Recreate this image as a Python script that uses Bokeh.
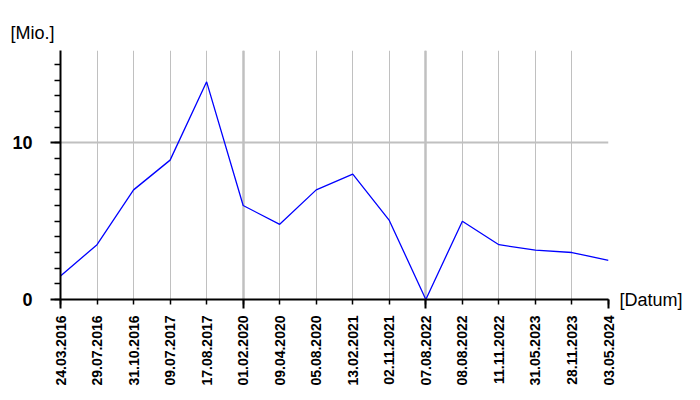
import math
from bokeh.plotting import figure
from bokeh.models import FixedTicker, Grid, Range1d, LinearAxis, Title
from bokeh.embed import file_html
from bokeh.resources import INLINE

dates = ["24.03.2016", "29.07.2016", "31.10.2016", "09.07.2017", "17.08.2017",
         "01.02.2020", "09.04.2020", "05.08.2020", "13.02.2021", "02.11.2021",
         "07.08.2022", "08.08.2022", "11.11.2022", "31.05.2023", "28.11.2023",
         "03.05.2024"]
values = [1.5, 3.5, 7.0, 8.9, 13.9, 6.0, 4.8, 7.0, 8.0, 5.05, 0.0, 5.0, 3.5,
          3.15, 3.0, 2.5]
y_major_ticks = [0, 10]
y_minor_ticks = list(range(0, 16))
y_max = 15.9
y_label = "[Mio.]"
x_label = "[Datum]"

idx = list(range(len(dates)))
major_idx = idx[::5]

p = figure(width=700, height=400, output_backend="svg", toolbar_location=None,
           x_range=Range1d(0, len(dates) - 1), y_range=Range1d(0, y_max),
           min_border_left=60, min_border_right=92, min_border_top=50,
           min_border_bottom=101)
p.outline_line_color = None
p.background_fill_color = "white"

# title used as the y unit label
p.title = Title(text=y_label, align="left", offset=-50, standoff=15,
                text_font="Liberation Sans", text_font_size="18px",
                text_font_style="normal", text_color="black")

# x axis
xa = p.xaxis[0]
xa.ticker = FixedTicker(ticks=idx, minor_ticks=major_idx)
xa.major_label_overrides = {i: d for i, d in enumerate(dates)}
xa.major_label_orientation = math.pi / 2
xa.major_tick_in = 0
xa.major_tick_out = 5
xa.major_tick_line_width = 1.5
xa.minor_tick_in = 0
xa.minor_tick_out = 9
xa.minor_tick_line_width = 2
xa.axis_line_width = 2
xa.major_label_standoff = 7
xa.major_label_text_font = "Liberation Sans"
xa.major_label_text_font_style = "bold"
xa.major_label_text_font_size = "14px"
xa.major_label_text_color = "black"

# y axis
ya = p.yaxis[0]
ya.ticker = FixedTicker(ticks=y_major_ticks, minor_ticks=y_minor_ticks)
ya.major_tick_in = 0
ya.major_tick_out = 10
ya.major_tick_line_width = 2
ya.minor_tick_in = 0
ya.minor_tick_out = 6
ya.minor_tick_line_width = 1.5
ya.axis_line_width = 2
ya.major_label_standoff = 18
ya.major_label_text_font = "Liberation Sans"
ya.major_label_text_font_style = "bold"
ya.major_label_text_font_size = "18px"
ya.major_label_text_color = "black"

# right axis used as the x unit label at y=0
ra = LinearAxis(ticker=FixedTicker(ticks=[0], minor_ticks=[]),
                major_label_overrides={0: x_label},
                axis_line_color=None, major_tick_line_color=None,
                minor_tick_line_color=None, major_label_standoff=5,
                major_label_text_font="Liberation Sans",
                major_label_text_font_size="18px",
                major_label_text_color="black")
p.add_layout(ra, "right")

# grids
p.xgrid.ticker = FixedTicker(ticks=idx)
p.xgrid.grid_line_color = "#c0c0c0"
p.xgrid.grid_line_width = 1
p.add_layout(Grid(dimension=0, ticker=FixedTicker(ticks=major_idx),
                  grid_line_color="#c0c0c0", grid_line_width=2.5))
p.ygrid.ticker = FixedTicker(ticks=[10])
p.ygrid.grid_line_color = "#c0c0c0"
p.ygrid.grid_line_width = 2

p.line(idx, values, line_color="#0000ff", line_width=1.3)

open("out.html", "w").write(file_html(p, INLINE))
